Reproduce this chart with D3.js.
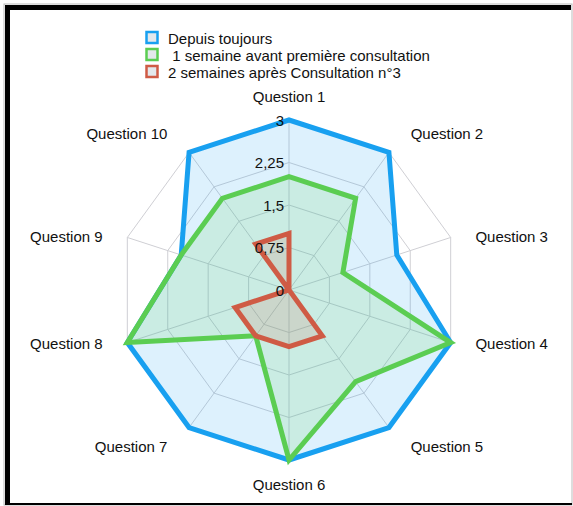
<!DOCTYPE html>
<html>
<head>
<meta charset="utf-8">
<script src="https://cdn.jsdelivr.net/npm/d3@7"></script>
<style>
  html, body { margin: 0; padding: 0; background: #fff; }
  svg { display: block; }
  text { font-family: "Liberation Sans", Arial, Helvetica, sans-serif; fill: #111; white-space: pre; }
</style>
</head>
<body>
<svg id="chart" width="573" height="506"></svg>
<script>
// Questionnaire axes
const questions = ["Question 1", "Question 2", "Question 3", "Question 4", "Question 5",
                   "Question 6", "Question 7", "Question 8", "Question 9", "Question 10"];

// Scores per period
const seriesNames = ["Depuis toujours", "\u00a01 semaine avant première consultation", "2 semaines après Consultation n°3"];
const depuisToujours = [3, 3, 2, 3, 3, 3, 3, 3, 2, 3];
const avantPremiere = [2, 2, 1, 3, 2, 3, 1, 3, 2, 2];
const apresConsult3 = [1, 0, 0, 0, 1, 1, 1, 1, 0, 1];

// Radial scale ticks
const tickValues = [0, 0.75, 1.5, 2.25, 3];
const tickLabels = ["0", "0,75", "1,5", "2,25", "3"];

const colors = ["#18a0f0", "#5bcd52", "#cf5b45"];

const svg = d3.select("#chart");
const cx = 289, cy = 290, R = 170;

// frame
svg.append("rect").attr("x", 4).attr("y", 4).attr("width", 568).attr("height", 501)
  .attr("fill", "none").attr("stroke", "#bbb").attr("stroke-width", 1);
svg.append("rect").attr("x", 5).attr("y", 5).attr("width", 566).attr("height", 5).attr("fill", "#000");
svg.append("rect").attr("x", 5).attr("y", 5).attr("width", 5).attr("height", 500).attr("fill", "#000");
svg.append("rect").attr("x", 5).attr("y", 503).attr("width", 567).attr("height", 2).attr("fill", "#000");

const r = d3.scaleLinear().domain([0, 3]).range([0, R]);
const angle = d3.scalePoint().domain(questions).range([0, 2 * Math.PI * (questions.length - 1) / questions.length]);

const pt = (q, v) => {
  const a = angle(q);
  return [cx + Math.sin(a) * r(v), cy - Math.cos(a) * r(v)];
};

const g = svg.append("g");

// grid rings
tickValues.filter(t => t > 0).forEach(t => {
  g.append("polygon")
    .attr("points", questions.map(q => pt(q, t).join(",")).join(" "))
    .attr("fill", "none").attr("stroke", "#cfcfd4").attr("stroke-width", 1);
});
// spokes
questions.forEach(q => {
  const [x, y] = pt(q, 3);
  g.append("line").attr("x1", cx).attr("y1", cy).attr("x2", x).attr("y2", y)
    .attr("stroke", "#cfcfd4").attr("stroke-width", 1);
});

// series
const allSeries = [depuisToujours, avantPremiere, apresConsult3];
allSeries.forEach((vals, i) => {
  const line = d3.lineRadial()
    .angle((d, j) => angle(questions[j]))
    .radius(d => r(d))
    .curve(d3.curveLinearClosed);
  g.append("path")
    .attr("transform", `translate(${cx},${cy})`)
    .attr("d", line(vals))
    .attr("fill", colors[i]).attr("fill-opacity", 0.15)
    .attr("stroke", colors[i]).attr("stroke-width", 5)
    .attr("stroke-linejoin", "miter");
});

// tick labels
tickValues.forEach((t, i) => {
  g.append("text").attr("x", cx - 5).attr("y", cy - r(t))
    .attr("text-anchor", "end").attr("dominant-baseline", "central")
    .attr("font-size", 15).text(tickLabels[i]);
});

// axis labels
questions.forEach(q => {
  const a = angle(q);
  const s = Math.sin(a), c = Math.cos(a);
  const side = Math.abs(c) < 0.5;
  const Lx = side ? 196 : 207;
  const Ly = side ? 172 : 194;
  let anchor = "middle";
  if (s > 0.1) anchor = "start";
  else if (s < -0.1) anchor = "end";
  g.append("text")
    .attr("x", cx + s * Lx)
    .attr("y", cy - c * Ly)
    .attr("text-anchor", anchor)
    .attr("dominant-baseline", "central")
    .attr("font-size", 15)
    .text(q);
});

// legend
const legend = svg.append("g");
seriesNames.forEach((name, i) => {
  const y = 38 + i * 17;
  legend.append("rect").attr("x", 146.5).attr("y", y - 6).attr("width", 11).attr("height", 11)
    .attr("fill", "#e4e8ec").attr("stroke", colors[i]).attr("stroke-width", 2.5);
  legend.append("text").attr("x", 168).attr("y", y).attr("dominant-baseline", "central")
    .attr("font-size", 15).text(name);
});
</script>
</body>
</html>
